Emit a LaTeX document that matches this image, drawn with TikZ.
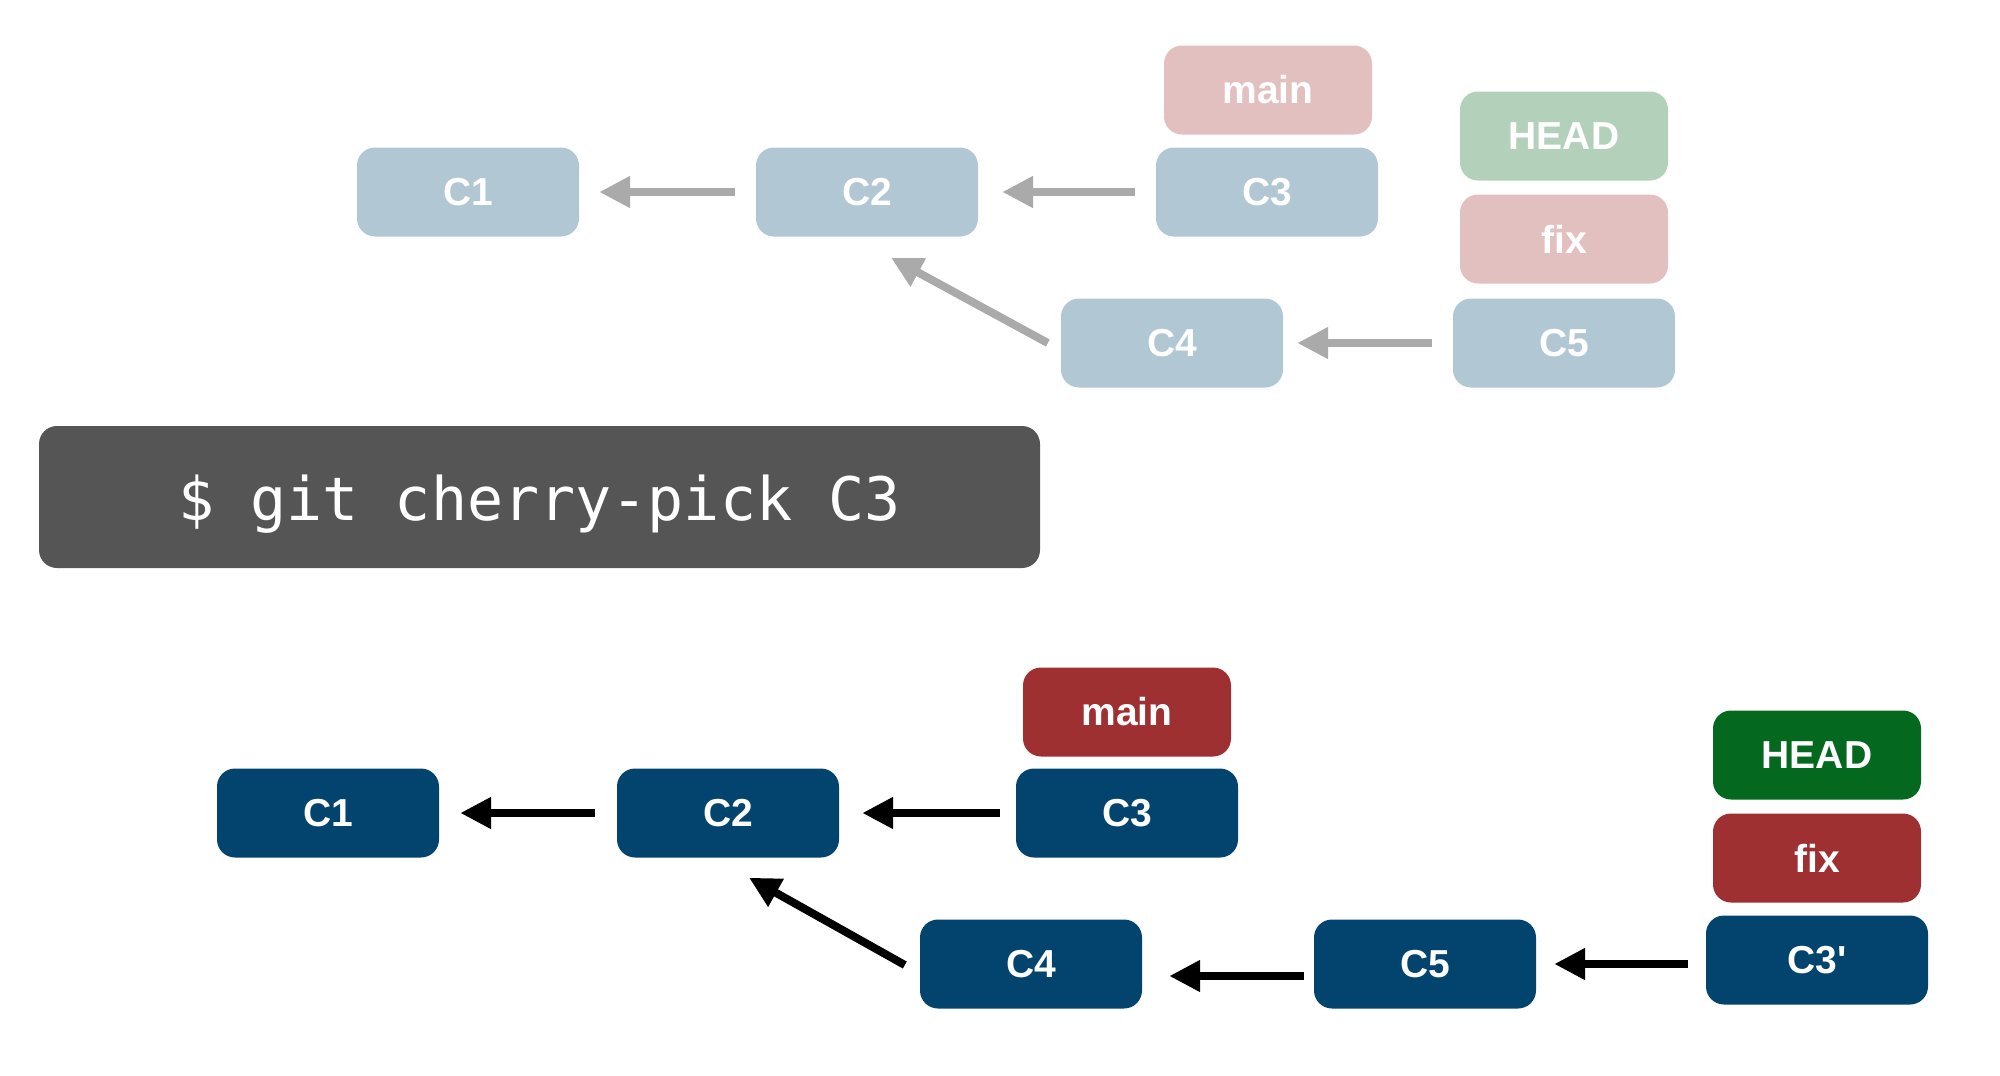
\documentclass[tikz,border=0pt]{standalone}
\usepackage{fontspec}
\setmainfont{Liberation Sans}
\newfontfamily\cmdfont{DejaVu Sans Mono}
\usetikzlibrary{arrows.meta,calc}
\definecolor{lblue}{HTML}{B1C7D4}
\definecolor{lred}{HTML}{E3C0C0}
\definecolor{lgreen}{HTML}{B3D1BA}
\definecolor{dblue}{HTML}{03446F}
\definecolor{dred}{HTML}{9F3031}
\definecolor{dgreen}{HTML}{04691F}
\definecolor{arrgrey}{HTML}{AAAAAA}
\definecolor{cmdgrey}{HTML}{555555}
\begin{document}
\begin{tikzpicture}[x=1pt,y=-1pt,
  commit/.style={rounded corners=18pt, minimum width=222pt, minimum height=89pt,
    inner sep=0pt, text=white, font=\fontsize{39}{39}\selectfont\bfseries},
  label/.style={commit, minimum width=208pt},
  garr/.style={draw=arrgrey, line width=8pt, -{Triangle[length=31pt,width=30pt]}},
  barr/.style={garr, draw=black},
  cmd/.style={rounded corners=18pt, fill=cmdgrey, minimum width=1001pt, minimum height=142pt,
    inner sep=0pt, text=white, text height=50pt, text depth=4pt,
    font=\cmdfont\fontsize{60}{60}\selectfont}]
\path[use as bounding box, fill=white] (0,0) rectangle (2000,1076);

% ---------- top (before) ----------
\node[commit, fill=lblue] (c1t) at (468,192) {C1};
\node[commit, fill=lblue] (c2t) at (867,192) {C2};
\node[commit, fill=lblue] (c3t) at (1267,192) {C3};
\node[label, fill=lred] (maint) at (1268,90) {main};
\node[commit, fill=lblue] (c4t) at (1172,343) {C4};
\node[commit, fill=lblue] (c5t) at (1564,343) {C5};
\node[label, fill=lgreen] (headt) at (1564,136) {HEAD};
\node[label, fill=lred] (fixt) at (1564,239) {fix};

\draw[garr] ($(c2t.west)+(-21,0)$) -- ($(c1t.east)+(20,0)$);
\draw[garr] ($(c3t.west)+(-21,0)$) -- ($(c2t.east)+(24,0)$);
\draw[garr] ($(c5t.west)+(-21,0)$) -- ($(c4t.east)+(14,0)$);
\draw[garr] ($(c4t.west)+(-13,0)$) -- ($(c2t.south)+(24,21)$);

% ---------- command ----------
\node[cmd] (cmd) at (539.5,497) {\$ git cherry-pick C3};

% ---------- bottom (after) ----------
\node[commit, fill=dblue] (c1b) at (328,813) {C1};
\node[commit, fill=dblue] (c2b) at (728,813) {C2};
\node[commit, fill=dblue] (c3b) at (1127,813) {C3};
\node[label, fill=dred] (mainb) at (1127,712) {main};
\node[commit, fill=dblue] (c4b) at (1031,964) {C4};
\node[commit, fill=dblue] (c5b) at (1425,964) {C5};
\node[commit, fill=dblue] (c3pb) at (1817,960) {C3\textquotesingle};
\node[label, fill=dgreen] (headb) at (1817,755) {HEAD};
\node[label, fill=dred] (fixb) at (1817,858) {fix};

\draw[barr] ($(c2b.west)+(-22,0)$) -- ($(c1b.east)+(21,0)$);
\draw[barr] ($(c3b.west)+(-16,0)$) -- ($(c2b.east)+(23,0)$);
\draw[barr] ($(c5b.west)+(-10,12)$) -- ($(c4b.east)+(27,12)$);
\draw[barr] ($(c3pb.west)+(-18,4)$) -- ($(c5b.east)+(18,0)$);
\draw[barr] ($(c4b.west)+(-15,1)$) -- ($(c2b.south)+(21,20)$);
\end{tikzpicture}
\end{document}
